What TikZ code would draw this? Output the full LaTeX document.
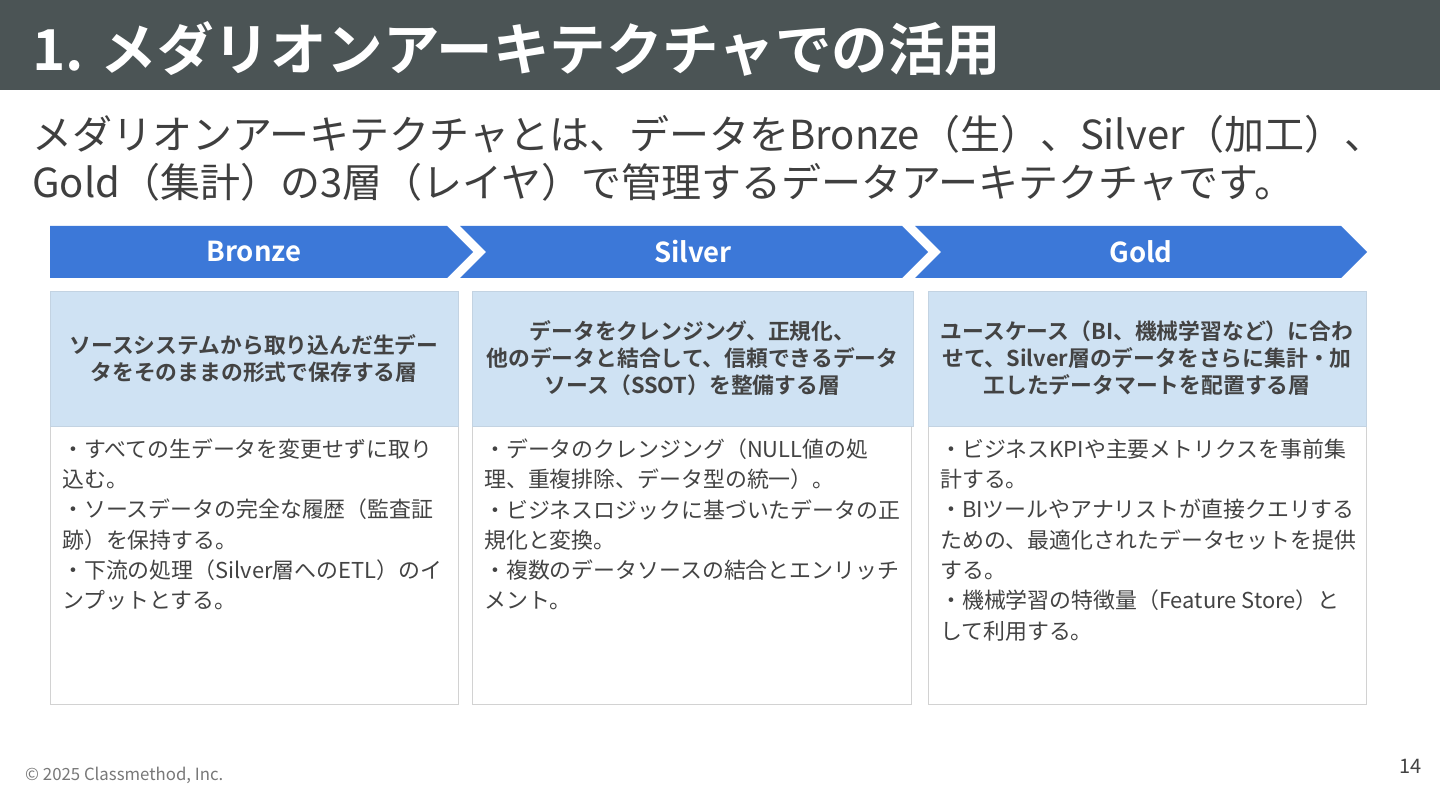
\documentclass[tikz,border=0pt]{standalone}
\usepackage{fontspec}
\setmainfont{Noto Sans CJK JP}[BoldFont={Noto Sans CJK JP Bold}]
\definecolor{titlebar}{RGB}{75,84,85}
\definecolor{chev}{RGB}{60,120,216}
\definecolor{hdrfill}{RGB}{207,226,243}
\definecolor{txt}{RGB}{67,67,67}
\definecolor{subtxt}{RGB}{63,63,63}
\definecolor{brd}{RGB}{210,210,210}
\definecolor{foot}{RGB}{120,120,120}
\begin{document}
\begin{tikzpicture}[x=1pt,y=-1pt,
  chevlabel/.style={text=white,font=\bfseries\fontsize{27.5}{30}\selectfont,inner sep=0},
  hdrtext/.style={text=txt,font=\bfseries\fontsize{21.8}{27}\selectfont,align=center,inner sep=0},
  bodytext/.style={text=txt,font=\fontsize{21.9}{30.3}\selectfont,align=left,inner sep=0,anchor=north west},
  hdrbox/.style={fill=hdrfill,draw=hdrfill!85!gray,line width=0.8pt},
  bodybox/.style={fill=white,draw=brd,line width=1pt}]
\useasboundingbox (0,0) rectangle (1440,810);
\fill[white] (0,0) rectangle (1440,810);
% title bar
\fill[titlebar] (0,0) rectangle (1440,90);
\node[anchor=base west,inner sep=0,text=white,font=\bfseries\fontsize{56.5}{60}\selectfont] (title) at (32,71) {1. メダリオンアーキテクチャでの活用};
% subtitle
\node[anchor=base west,inner sep=0,text=subtxt,font=\fontsize{40}{48}\selectfont] (sub1) at (32,150) {メダリオンアーキテクチャとは、データをBronze（生）、Silver（加工）、};
\node[anchor=base west,inner sep=0,text=subtxt,font=\fontsize{40}{48}\selectfont] (sub2) at (32,198) {Gold（集計）の3層（レイヤ）で管理するデータアーキテクチャです。};
% chevrons
\fill[chev] (50,226) -- (447,226) -- (473,252) -- (447,278) -- (50,278) -- cycle;
\fill[chev] (460,226) -- (902,226) -- (928,252) -- (902,278) -- (460,278) -- (486,252) -- cycle;
\fill[chev] (915,226) -- (1341,226) -- (1367,252) -- (1341,278) -- (915,278) -- (941,252) -- cycle;
\node[chevlabel] (lb) at (254,252) {Bronze};
\node[chevlabel] (ls) at (693,252) {Silver};
\node[chevlabel] (lg) at (1141,252) {Gold};
% boxes
\draw[bodybox] (50,426) rectangle (458,704);
\draw[bodybox] (472,426) rectangle (911,704);
\draw[bodybox] (928,426) rectangle (1366,704);
\draw[hdrbox] (50,291) rectangle (458,426);
\draw[hdrbox] (472,291) rectangle (913,426);
\draw[hdrbox] (928,291) rectangle (1366,426);
% header texts
\node[hdrtext] (hb) at (254,358.5) {ソースシステムから取り込んだ生デー\\タをそのままの形式で保存する層};
\node[hdrtext] (hs) at (692.5,358) {データをクレンジング、正規化、\\他のデータと結合して、信頼できるデータ\\ソース（SSOT）を整備する層};
\node[hdrtext] (hg) at (1147,358) {ユースケース（BI、機械学習など）に合わ\\せて、Silver層のデータをさらに集計・加\\工したデータマートを配置する層};
% body texts
\node[bodytext] (bb) at (62,438.5) {・すべての生データを変更せずに取り\\込む。\\・ソースデータの完全な履歴（監査証\\跡）を保持する。\\・下流の処理（Silver層へのETL）のイ\\ンプットとする。};
\node[bodytext] (bs) at (484,438.5) {・データのクレンジング（NULL値の処\\理、重複排除、データ型の統一）。\\・ビジネスロジックに基づいたデータの正\\規化と変換。\\・複数のデータソースの結合とエンリッチ\\メント。};
\node[bodytext] (bg) at (940,438.5) {・ビジネスKPIや主要メトリクスを事前集\\計する。\\・BIツールやアナリストが直接クエリする\\ための、最適化されたデータセットを提供\\する。\\・機械学習の特徴量（Feature Store）と\\して利用する。};
% footer
\node[anchor=base west,inner sep=0,text=foot,font=\fontsize{16.8}{18}\selectfont] (copy) at (25,780) {© 2025 Classmethod, Inc.};
\node[anchor=base east,inner sep=0,text=txt,font=\fontsize{20}{22}\selectfont] (page) at (1422,773) {14};
\end{tikzpicture}
\end{document}
